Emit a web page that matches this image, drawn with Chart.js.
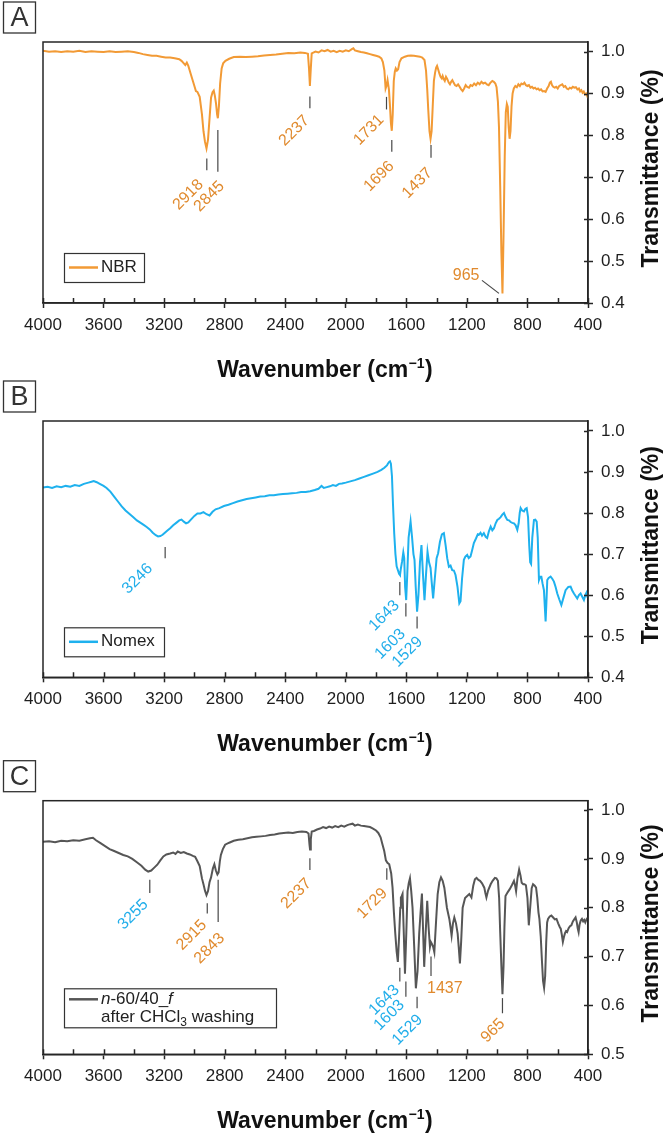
<!DOCTYPE html>
<html>
<head>
<meta charset="utf-8">
<script src="https://cdn.jsdelivr.net/npm/chart.js@4.4.1/dist/chart.umd.min.js"></script>
<style>
  html, body { margin: 0; padding: 0; background: #fff; }
  #wrap { position: relative; width: 666px; height: 1134px; overflow: hidden; }
  canvas { position: absolute; left: 0; }
</style>
</head>
<body>
<div id="wrap">
  <canvas id="panelA" width="666" height="390" style="top:0px"></canvas>
  <canvas id="panelB" width="666" height="390" style="top:370px"></canvas>
  <canvas id="panelC" width="666" height="384" style="top:750px"></canvas>
</div>
<script>
// ---- axis ticks ----
const xMajor = [4000, 3600, 3200, 2800, 2400, 2000, 1600, 1200, 800, 400];
const xMinor = [3800, 3400, 3000, 2600, 2200, 1800, 1400, 1000, 600];
const yTicksAB = [0.4, 0.5, 0.6, 0.7, 0.8, 0.9, 1.0];
const yTicksC = [0.5, 0.6, 0.7, 0.8, 0.9, 1.0];

// ---- spectra: [wavenumber, transmittance] ----
const nbr = [
  [4000,1.002],[3960,1.000],[3920,1.001],[3880,0.999],[3840,1.001],[3800,1.000],[3760,1.002],[3720,0.999],
  [3680,1.001],[3640,1.000],[3600,0.999],[3560,1.001],[3520,0.999],[3480,1.000],[3440,1.001],[3400,0.999],
  [3370,0.997],[3340,0.994],[3310,0.992],[3280,0.990],[3250,0.990],[3220,0.988],[3190,0.986],[3160,0.986],
  [3130,0.984],[3100,0.982],[3085,0.978],[3070,0.972],[3060,0.968],[3050,0.974],[3040,0.966],[3025,0.948],
  [3010,0.930],[3000,0.918],[2990,0.906],[2980,0.904],[2965,0.892],[2950,0.850],[2940,0.810],[2930,0.785],
  [2920,0.769],[2910,0.790],[2900,0.840],[2890,0.890],[2880,0.903],[2872,0.907],[2865,0.895],[2857,0.876],
  [2850,0.850],[2845,0.841],[2838,0.870],[2830,0.924],[2820,0.960],[2810,0.972],[2795,0.978],[2770,0.983],
  [2740,0.987],[2700,0.988],[2660,0.987],[2620,0.988],[2580,0.989],[2540,0.991],[2500,0.992],[2460,0.993],
  [2420,0.995],[2380,0.997],[2340,0.996],[2300,0.998],[2270,0.997],[2250,0.995],[2243,0.960],[2237,0.918],
  [2231,0.960],[2225,0.996],[2200,1.000],[2180,0.998],[2160,1.003],[2140,1.001],[2120,1.004],[2100,1.000],
  [2080,1.002],[2060,0.999],[2040,1.002],[2020,1.000],[2000,1.003],[1980,1.001],[1960,1.006],[1950,1.008],
  [1940,1.003],[1920,1.001],[1900,0.999],[1880,0.998],[1860,0.996],[1840,0.994],[1820,0.992],[1800,0.990],
  [1780,0.988],[1765,0.984],[1755,0.975],[1745,0.955],[1737,0.912],[1730,0.920],[1724,0.932],[1715,0.910],
  [1708,0.870],[1702,0.830],[1696,0.811],[1690,0.850],[1683,0.930],[1676,0.952],[1670,0.960],[1662,0.955],
  [1654,0.958],[1645,0.975],[1632,0.984],[1610,0.988],[1590,0.990],[1570,0.991],[1550,0.990],[1530,0.989],
  [1510,0.988],[1495,0.986],[1480,0.980],[1470,0.955],[1462,0.910],[1455,0.860],[1447,0.810],[1440,0.792],
  [1433,0.810],[1425,0.875],[1418,0.930],[1410,0.950],[1403,0.962],[1397,0.966],[1390,0.958],[1382,0.948],
  [1374,0.940],[1366,0.936],[1360,0.942],[1352,0.934],[1346,0.930],[1338,0.940],[1330,0.935],[1320,0.926],
  [1312,0.922],[1304,0.928],[1296,0.932],[1288,0.926],[1278,0.920],[1268,0.918],[1258,0.922],[1248,0.916],
  [1238,0.910],[1228,0.906],[1218,0.912],[1208,0.920],[1198,0.916],[1186,0.914],[1176,0.920],[1164,0.918],
  [1152,0.924],[1140,0.920],[1128,0.926],[1116,0.922],[1104,0.928],[1092,0.924],[1080,0.926],[1068,0.922],
  [1056,0.920],[1044,0.926],[1032,0.930],[1022,0.928],[1012,0.924],[1004,0.915],[995,0.880],[988,0.820],
  [980,0.680],[972,0.520],[965,0.423],[958,0.560],[950,0.750],[943,0.855],[936,0.875],[930,0.868],
  [924,0.820],[918,0.792],[912,0.810],[905,0.870],[898,0.900],[890,0.912],[880,0.918],[870,0.915],
  [860,0.922],[850,0.918],[840,0.924],[830,0.922],[820,0.926],[810,0.920],[800,0.918],[790,0.920],
  [780,0.914],[770,0.916],[760,0.912],[750,0.914],[740,0.910],[730,0.912],[720,0.908],[710,0.910],
  [700,0.905],[690,0.906],[680,0.904],[670,0.912],[660,0.918],[652,0.926],[645,0.928],[638,0.920],
  [630,0.916],[620,0.914],[610,0.916],[600,0.912],[590,0.918],[580,0.920],[570,0.922],[560,0.916],
  [550,0.918],[540,0.912],[530,0.910],[520,0.914],[510,0.912],[500,0.916],[490,0.914],[480,0.915],
  [470,0.910],[460,0.912],[452,0.905],[444,0.908],[436,0.902],[428,0.905],[420,0.898],[412,0.900],
  [404,0.893],[400,0.889]
];

const nomex = [
  [4000,0.862],[3970,0.864],[3940,0.861],[3910,0.865],[3880,0.863],[3850,0.866],[3820,0.864],[3790,0.868],
  [3760,0.866],[3730,0.871],[3700,0.874],[3680,0.876],[3665,0.878],[3645,0.875],[3625,0.871],[3600,0.866],
  [3580,0.861],[3555,0.852],[3530,0.840],[3505,0.828],[3480,0.816],[3455,0.806],[3430,0.798],[3405,0.790],
  [3380,0.782],[3355,0.776],[3335,0.771],[3315,0.766],[3295,0.760],[3275,0.752],[3255,0.746],[3240,0.743],
  [3225,0.744],[3210,0.747],[3195,0.752],[3180,0.757],[3160,0.763],[3140,0.770],[3120,0.776],[3100,0.782],
  [3085,0.784],[3070,0.779],[3055,0.775],[3040,0.777],[3020,0.785],[3000,0.793],[2980,0.799],[2960,0.799],
  [2940,0.802],[2920,0.797],[2900,0.794],[2880,0.803],[2860,0.809],[2835,0.812],[2805,0.817],[2775,0.820],
  [2745,0.824],[2715,0.828],[2685,0.831],[2655,0.834],[2625,0.836],[2595,0.838],[2565,0.840],[2535,0.841],
  [2505,0.843],[2475,0.843],[2445,0.845],[2415,0.846],[2385,0.847],[2355,0.848],[2325,0.849],[2295,0.851],
  [2265,0.851],[2235,0.853],[2205,0.856],[2180,0.859],[2160,0.866],[2145,0.861],[2125,0.863],[2105,0.865],
  [2085,0.868],[2065,0.866],[2045,0.871],[2025,0.872],[2000,0.874],[1970,0.877],[1940,0.880],[1910,0.884],
  [1880,0.888],[1850,0.892],[1820,0.896],[1790,0.900],[1765,0.905],[1745,0.910],[1728,0.916],[1715,0.924],
  [1708,0.926],[1702,0.920],[1695,0.890],[1688,0.820],[1680,0.750],[1672,0.700],[1664,0.670],[1655,0.660],
  [1648,0.652],[1642,0.649],[1636,0.665],[1628,0.682],[1620,0.704],[1614,0.690],[1608,0.620],[1601,0.588],
  [1594,0.650],[1585,0.740],[1572,0.779],[1562,0.740],[1553,0.700],[1546,0.686],[1538,0.620],[1529,0.560],
  [1520,0.600],[1510,0.680],[1500,0.722],[1490,0.650],[1480,0.588],[1470,0.650],[1460,0.706],[1450,0.680],
  [1440,0.666],[1432,0.630],[1423,0.592],[1412,0.640],[1400,0.690],[1390,0.702],[1378,0.730],[1365,0.748],
  [1352,0.751],[1340,0.720],[1330,0.690],[1319,0.669],[1308,0.672],[1297,0.661],[1286,0.660],[1275,0.649],
  [1262,0.620],[1250,0.580],[1242,0.585],[1232,0.640],[1220,0.686],[1210,0.694],[1198,0.698],[1188,0.690],
  [1176,0.694],[1165,0.710],[1154,0.727],[1140,0.738],[1128,0.748],[1121,0.747],[1110,0.752],[1100,0.745],
  [1088,0.751],[1076,0.742],[1066,0.739],[1055,0.755],[1043,0.767],[1032,0.758],[1021,0.763],[1010,0.775],
  [999,0.783],[988,0.786],[977,0.790],[966,0.796],[955,0.800],[944,0.790],[933,0.783],[922,0.782],
  [911,0.778],[900,0.776],[889,0.775],[878,0.770],[867,0.759],[858,0.775],[851,0.800],[845,0.812],
  [835,0.806],[823,0.804],[814,0.810],[805,0.812],[796,0.790],[788,0.720],[782,0.680],[776,0.676],
  [768,0.740],[757,0.783],[748,0.784],[739,0.779],[732,0.740],[724,0.637],[716,0.645],[708,0.645],
  [700,0.628],[691,0.612],[685,0.570],[680,0.536],[675,0.580],[669,0.637],[660,0.642],[647,0.645],
  [636,0.640],[625,0.633],[614,0.620],[603,0.604],[590,0.590],[576,0.576],[562,0.594],[548,0.612],
  [530,0.620],[515,0.621],[505,0.612],[493,0.604],[482,0.598],[471,0.592],[460,0.600],[449,0.604],
  [438,0.596],[427,0.588],[418,0.600],[410,0.606],[405,0.598],[400,0.600]
];

const washed = [
  [4000,0.935],[3960,0.936],[3920,0.934],[3880,0.937],[3840,0.936],[3800,0.938],[3760,0.937],[3720,0.940],
  [3690,0.942],[3670,0.943],[3650,0.938],[3620,0.932],[3590,0.926],[3560,0.920],[3530,0.916],[3500,0.912],
  [3470,0.908],[3440,0.905],[3410,0.900],[3380,0.893],[3350,0.886],[3325,0.878],[3305,0.874],[3285,0.876],
  [3265,0.882],[3245,0.888],[3225,0.897],[3205,0.905],[3185,0.909],[3160,0.911],[3140,0.913],[3125,0.910],
  [3110,0.915],[3090,0.912],[3070,0.914],[3050,0.911],[3030,0.909],[3010,0.906],[2995,0.904],[2980,0.895],
  [2965,0.885],[2950,0.860],[2940,0.848],[2930,0.835],[2920,0.826],[2910,0.834],[2900,0.852],[2890,0.862],
  [2878,0.880],[2868,0.889],[2858,0.876],[2848,0.868],[2840,0.872],[2832,0.895],[2825,0.908],[2812,0.920],
  [2797,0.929],[2770,0.933],[2740,0.937],[2710,0.939],[2680,0.940],[2650,0.942],[2620,0.944],[2590,0.945],
  [2560,0.946],[2530,0.947],[2500,0.949],[2470,0.950],[2440,0.952],[2410,0.953],[2380,0.954],[2350,0.953],
  [2320,0.955],[2290,0.956],[2260,0.955],[2246,0.952],[2240,0.930],[2236,0.919],[2231,0.940],[2225,0.956],
  [2210,0.957],[2190,0.960],[2170,0.962],[2150,0.965],[2130,0.963],[2110,0.966],[2090,0.964],[2070,0.967],
  [2050,0.965],[2030,0.968],[2010,0.966],[1990,0.969],[1970,0.971],[1955,0.972],[1940,0.968],[1920,0.970],
  [1900,0.968],[1880,0.967],[1860,0.966],[1840,0.965],[1820,0.962],[1800,0.958],[1785,0.953],[1770,0.944],
  [1758,0.930],[1746,0.916],[1735,0.897],[1725,0.892],[1713,0.889],[1700,0.870],[1691,0.841],[1682,0.790],
  [1673,0.747],[1664,0.710],[1656,0.689],[1648,0.740],[1640,0.800],[1636,0.821],[1630,0.824],[1625,0.828],
  [1618,0.760],[1609,0.665],[1600,0.750],[1592,0.834],[1584,0.850],[1576,0.860],[1568,0.835],[1559,0.800],
  [1548,0.720],[1537,0.635],[1526,0.670],[1515,0.747],[1506,0.790],[1497,0.829],[1490,0.760],[1482,0.679],
  [1472,0.750],[1462,0.814],[1453,0.760],[1444,0.720],[1438,0.730],[1431,0.726],[1423,0.720],[1415,0.709],
  [1404,0.770],[1393,0.828],[1382,0.852],[1371,0.862],[1360,0.855],[1349,0.841],[1332,0.800],[1316,0.777],
  [1308,0.760],[1301,0.743],[1292,0.768],[1283,0.780],[1272,0.768],[1261,0.747],[1254,0.720],[1246,0.686],
  [1238,0.730],[1228,0.800],[1212,0.820],[1198,0.824],[1184,0.828],[1170,0.821],[1158,0.845],[1147,0.858],
  [1136,0.861],[1124,0.857],[1113,0.855],[1100,0.850],[1085,0.841],[1078,0.830],[1071,0.821],[1060,0.835],
  [1043,0.848],[1030,0.855],[1015,0.861],[1005,0.860],[995,0.855],[987,0.820],[980,0.750],[972,0.680],
  [965,0.623],[958,0.680],[952,0.760],[945,0.824],[930,0.832],[917,0.838],[903,0.846],[889,0.855],
  [881,0.845],[875,0.834],[866,0.860],[855,0.878],[846,0.866],[838,0.851],[828,0.848],[819,0.848],
  [810,0.846],[800,0.820],[791,0.764],[782,0.800],[772,0.840],[763,0.848],[752,0.845],[743,0.841],
  [735,0.820],[727,0.790],[721,0.777],[712,0.740],[704,0.690],[697,0.650],[690,0.636],[683,0.660],
  [676,0.730],[670,0.770],[664,0.777],[653,0.782],[642,0.784],[630,0.780],[619,0.776],[608,0.777],
  [597,0.768],[586,0.760],[580,0.757],[573,0.745],[566,0.730],[559,0.740],[552,0.748],[545,0.752],
  [538,0.750],[528,0.758],[519,0.762],[510,0.764],[500,0.772],[491,0.776],[482,0.780],[474,0.770],
  [468,0.758],[462,0.750],[456,0.765],[448,0.774],[440,0.777],[432,0.772],[425,0.775],[418,0.770],
  [410,0.776],[405,0.778],[400,0.780]
];

// ---- peak labels ----
const peaksA = [2918, 2845, 2237, 1731, 1696, 1437, 965];
const peaksB = [3246, 1643, 1603, 1529];
const peaksC = [3255, 2915, 2843, 2237, 1729, 1643, 1603, 1529, 1437, 965];
const peakColorC = ['blue', 'orange', 'orange', 'orange', 'orange', 'blue', 'blue', 'blue', 'orange', 'orange'];

// ---- styles ----
const FONT = '"Liberation Sans", Arial, Helvetica, sans-serif';
const INK = '#262626';
const ORANGE = '#F29A35';
const ORANGE_TXT = '#E08A2E';
const BLUE = '#1EB1EE';
const BLUE_TXT = '#22AEEA';
const GREY = '#565656';
const txtColor = { orange: ORANGE_TXT, blue: BLUE_TXT };

// mark layout per peak: [tickTop, tickBottom, labelDx, labelDy, markerDx, kind]
const markA = [
  [0.745, 0.717, -6, 12, 0, 'rot'],
  [0.813, 0.713, 4, 12, 0, 'rot'],
  [0.893, 0.865, -3, 10, 0, 'rot'],
  [0.892, 0.862, -5, 8, 0, 'rot'],
  [0.789, 0.761, 0, 12, 0, 'rot'],
  [0.777, 0.747, -1, 13, 0, 'rot'],
  [0.454, 0.423, -23, 0, 0, 'leader']
];
const markB = [
  [0.717, 0.690, -15, 8, 8, 'rot'],
  [0.632, 0.600, -3, 8, 0, 'rot'],
  [0.580, 0.548, -3, 15, 0, 'rot'],
  [0.548, 0.519, 3, 11, 0, 'rot']
];
const markC = [
  [0.857, 0.830, -4, 9, -6, 'rot'],
  [0.809, 0.788, -3, 9, 0, 'rot'],
  [0.857, 0.771, 4, 14, 0, 'rot'],
  [0.901, 0.877, -1, 11, 0, 'rot'],
  [0.881, 0.857, -2, 11, 0, 'rot'],
  [0.677, 0.649, -3, 6, 0, 'rot'],
  [0.649, 0.618, -4, 6, 0, 'rot'],
  [0.618, 0.594, 3, 9, 0, 'rot'],
  [0.700, 0.660, -4, 12, 0, 'flat'],
  [0.615, 0.584, 0, 8, 0, 'rot']
];

function drawXTitle(ctx, cx, cy) {
  const big = 'bold 23px ' + FONT, small = 'bold 14px ' + FONT;
  ctx.font = big;
  const w1 = ctx.measureText('Wavenumber (cm').width;
  const w3 = ctx.measureText(')').width;
  ctx.font = small;
  const w2 = ctx.measureText('\u22121').width + 1;
  let x = cx - (w1 + w2 + w3) / 2;
  ctx.textAlign = 'left';
  ctx.textBaseline = 'alphabetic';
  ctx.fillStyle = '#111';
  ctx.font = big; ctx.fillText('Wavenumber (cm', x, cy + 8); x += w1;
  ctx.font = small; ctx.fillText('\u22121', x + 0.5, cy - 1); x += w2;
  ctx.font = big; ctx.fillText(')', x, cy + 8);
}

function drawRuns(ctx, runs, x, y) {
  runs.forEach(r => {
    ctx.font = r[1];
    ctx.fillText(r[0], x, y + (r[2] || 0));
    x += ctx.measureText(r[0]).width;
  });
}

const decor = {
  id: 'decor',
  afterDraw(chart, args, o) {
    const ctx = chart.ctx, a = chart.chartArea;
    const xs = chart.scales.x, ys = chart.scales.y;
    ctx.save();
    // frame
    ctx.strokeStyle = INK;
    ctx.lineWidth = 1.5;
    ctx.strokeRect(a.left, a.top, a.right - a.left, a.bottom - a.top);
    // inner tick parts
    ctx.beginPath();
    xs.ticks.forEach(t => {
      const x = Math.round(xs.getPixelForValue(t.value)) + 0.5;
      ctx.moveTo(x, a.bottom); ctx.lineTo(x, a.bottom - 5);
    });
    ys.ticks.forEach(t => {
      const y = Math.round(ys.getPixelForValue(t.value)) + 0.5;
      ctx.moveTo(a.right, y); ctx.lineTo(a.right - 4, y);
    });
    ctx.stroke();

    // panel letter
    ctx.lineWidth = 1.3;
    ctx.strokeStyle = '#333';
    ctx.strokeRect(3.5, a.top - 40, 32, 31);
    ctx.fillStyle = '#333';
    ctx.font = '27px ' + FONT;
    ctx.textAlign = 'center';
    ctx.textBaseline = 'middle';
    ctx.fillText(o.letter, 19.5, a.top - 23.5);

    // axis titles
    drawXTitle(ctx, 325, a.bottom + 66);
    ctx.save();
    ctx.translate(652, (a.top + a.bottom) / 2 - 4);
    ctx.rotate(-Math.PI / 2);
    ctx.font = 'bold 23px ' + FONT;
    ctx.fillStyle = '#111';
    ctx.textAlign = 'center';
    ctx.textBaseline = 'middle';
    ctx.fillText('Transmittance (%)', 0, 0);
    ctx.restore();

    // legend box
    const lg = o.legend;
    const bx = 64, bBottom = a.bottom - lg.gap, bTop = bBottom - lg.h;
    ctx.fillStyle = '#fff';
    ctx.fillRect(bx, bTop, lg.w, lg.h);
    ctx.strokeStyle = '#333';
    ctx.lineWidth = 1.2;
    ctx.strokeRect(bx + 0.5, bTop + 0.5, lg.w, lg.h);
    const ly = bTop + lg.lineY;
    ctx.strokeStyle = chart.data.datasets[0].borderColor;
    ctx.lineWidth = 2.5;
    ctx.beginPath(); ctx.moveTo(bx + 5, ly); ctx.lineTo(bx + 34, ly); ctx.stroke();
    ctx.fillStyle = '#222';
    ctx.textAlign = 'left';
    ctx.textBaseline = 'middle';
    lg.lines.forEach((runs, i) => drawRuns(ctx, runs, bx + 37, ly + i * 18));

    // peak markers and labels
    o.peaks.forEach((p, i) => {
      const m = o.marks[i];
      const x = xs.getPixelForValue(p) + m[4];
      const y1 = ys.getPixelForValue(m[0]), y2 = ys.getPixelForValue(m[1]);
      ctx.strokeStyle = '#474747';
      ctx.lineWidth = 1.2;
      ctx.fillStyle = o.colors[i];
      ctx.font = '16px ' + FONT;
      if (m[5] === 'leader') {
        ctx.beginPath(); ctx.moveTo(x - 20.5, y1); ctx.lineTo(x - 3.5, y2); ctx.stroke();
        ctx.textAlign = 'right';
        ctx.textBaseline = 'middle';
        ctx.fillText(String(p), x + m[2], y1 - 5);
        return;
      }
      ctx.beginPath(); ctx.moveTo(x, y1); ctx.lineTo(x, y2); ctx.stroke();
      if (m[5] === 'flat') {
        ctx.textAlign = 'left';
        ctx.textBaseline = 'middle';
        ctx.fillText(String(p), x + m[2], y2 + m[3]);
      } else {
        ctx.save();
        ctx.translate(x + m[2], y2 + m[3]);
        ctx.rotate(-Math.PI / 4);
        ctx.textAlign = 'right';
        ctx.textBaseline = 'middle';
        ctx.fillText(String(p), 0, 0);
        ctx.restore();
      }
    });
    ctx.restore();
  }
};

function makePanel(id, cfg) {
  return new Chart(document.getElementById(id), {
    type: 'line',
    data: {
      datasets: [{
        label: cfg.label,
        data: cfg.spectrum.map(d => ({ x: d[0], y: d[1] })),
        borderColor: cfg.color,
        borderWidth: 2,
        pointRadius: 0,
        tension: 0,
        fill: false
      }]
    },
    options: {
      responsive: false,
      animation: false,
      devicePixelRatio: 1,
      layout: { padding: { left: 43, right: 28, top: cfg.top, bottom: 0 } },
      plugins: {
        legend: { display: false },
        tooltip: { enabled: false },
        decor: cfg.decor
      },
      scales: {
        x: {
          type: 'linear',
          reverse: true,
          min: 400,
          max: 4000,
          afterBuildTicks: s => {
            s.ticks = xMajor.concat(xMinor).sort((p, q) => p - q).map(v => ({ value: v }));
          },
          afterFit: s => { s.height = cfg.xh; },
          ticks: {
            autoSkip: false,
            maxRotation: 0,
            padding: 7,
            color: '#1e1e1e',
            font: { family: FONT, size: 17 },
            callback: v => (xMajor.includes(v) ? String(v) : '')
          },
          grid: {
            drawOnChartArea: false,
            tickLength: 5,
            tickWidth: 1.5,
            tickColor: c => (c.tick && xMajor.includes(c.tick.value) ? INK : 'rgba(0,0,0,0)')
          },
          border: { color: INK, width: 1.5 }
        },
        y: {
          type: 'linear',
          position: 'right',
          min: cfg.ymin,
          max: cfg.ymax,
          afterBuildTicks: s => { s.ticks = cfg.yTicks.map(v => ({ value: v })); },
          afterFit: s => { s.width = 50; },
          ticks: {
            padding: 8,
            color: '#1e1e1e',
            font: { family: FONT, size: 17 },
            callback: v => v.toFixed(1)
          },
          grid: { drawOnChartArea: false, tickLength: 5, tickWidth: 1.5, tickColor: INK },
          border: { color: INK, width: 1.5 }
        }
      }
    },
    plugins: [decor]
  });
}

const reg = () => '17px ' + FONT;
const ital = 'italic 17px ' + FONT;

makePanel('panelA', {
  label: 'NBR', spectrum: nbr, color: ORANGE,
  top: 42, xh: 87, ymin: 0.4, ymax: 1.023, yTicks: yTicksAB,
  decor: {
    letter: 'A',
    legend: { w: 80, h: 29, gap: 21, lineY: 14.5, lines: [[['NBR', reg()]]] },
    peaks: peaksA, marks: markA, colors: peaksA.map(() => ORANGE_TXT)
  }
});

makePanel('panelB', {
  label: 'Nomex', spectrum: nomex, color: BLUE,
  top: 51, xh: 82.7, ymin: 0.4, ymax: 1.024, yTicks: yTicksAB,
  decor: {
    letter: 'B',
    legend: { w: 100, h: 29, gap: 21, lineY: 14.5, lines: [[['Nomex', reg()]]] },
    peaks: peaksB, marks: markB, colors: peaksB.map(() => BLUE_TXT)
  }
});

makePanel('panelC', {
  label: 'n-60/40_f after CHCl3 washing', spectrum: washed, color: GREY,
  top: 50.7, xh: 79.7, ymin: 0.5, ymax: 1.019, yTicks: yTicksC,
  decor: {
    letter: 'C',
    legend: {
      w: 212, h: 39, gap: 27, lineY: 11,
      lines: [
        [['n', ital], ['-60/40_', reg()], ['f', ital]],
        [['after CHCl', reg()], ['3', '12px ' + FONT, 5], [' washing', reg()]]
      ]
    },
    peaks: peaksC, marks: markC, colors: peakColorC.map(c => txtColor[c])
  }
});
</script>
</body>
</html>
